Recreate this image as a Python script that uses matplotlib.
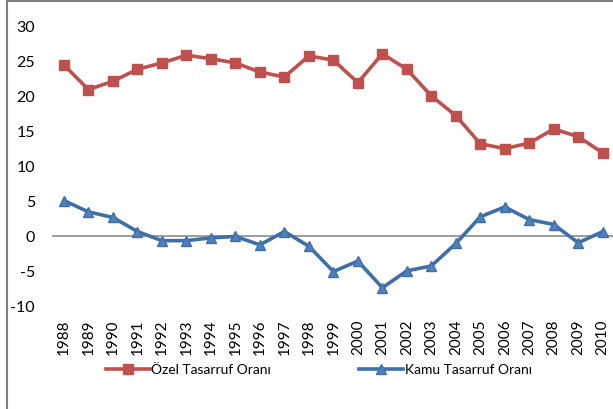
import numpy as np
import matplotlib.pyplot as plt
from matplotlib.patches import Rectangle

years = [str(y) for y in range(1988, 2011)]
ozel = [24.3, 20.8, 22.0, 23.7, 24.6, 25.7, 25.2, 24.6, 23.3, 22.6, 25.6, 25.0,
        21.8, 25.9, 23.7, 19.9, 17.1, 13.1, 12.4, 13.2, 15.2, 14.1, 11.8]
kamu = [5.0, 3.4, 2.6, 0.6, -0.7, -0.7, -0.3, -0.1, -1.3, 0.6, -1.5, -5.1,
        -3.6, -7.4, -5.0, -4.3, -1.1, 2.7, 4.1, 2.3, 1.6, -1.0, 0.6]
yticks = [-10, -5, 0, 5, 10, 15, 20, 25, 30]

plt.rcParams['font.family'] = ['Lato', 'DejaVu Sans']

fig = plt.figure(figsize=(6.13, 4.10), dpi=100)
# outer chart frame (cropped on right and bottom)
fig.patches.append(Rectangle((7 / 613, -0.1), 1.2, 1 - 2 / 410 + 0.1,
                             transform=fig.transFigure, fill=False,
                             edgecolor='#7f7f7f', linewidth=1.5))

ax = fig.add_axes([51.75 / 613, 1 - 307 / 410, (615 - 51.75) / 613, (307 - 26) / 410])
x = np.arange(len(years))
ax.axhline(0, color='#8c8c8c', linewidth=1.2, zorder=1)
ax.plot(x, ozel, color='#C0504D', linewidth=2.6, marker='s', markersize=7,
        label='Özel Tasarruf Oranı', zorder=3)
ax.plot(x, kamu, color='#3F6FA8', linewidth=2.6, marker='^', markersize=7,
        markerfacecolor='#4F81BD', label='Kamu Tasarruf Oranı', zorder=3)

ax.set_xlim(-0.5, len(years) - 0.5)
ax.set_ylim(-10, 30)
ax.set_yticks(yticks)
ax.set_yticklabels([str(v) for v in yticks], fontsize=11.5)
ax.set_xticks(x)
ax.set_xticklabels(years, rotation=90, fontsize=11)
ax.tick_params(length=0, pad=9)
ax.tick_params(axis='y', pad=12)
for s in ax.spines.values():
    s.set_visible(False)

ax.legend(loc='lower left', bbox_to_anchor=(100 / 613, 28 / 410), bbox_transform=fig.transFigure,
          ncol=2, frameon=False, fontsize=10, handlelength=3.2, handletextpad=0.1,
          columnspacing=6.3, borderaxespad=0)

fig.savefig('out.png', dpi=100)
